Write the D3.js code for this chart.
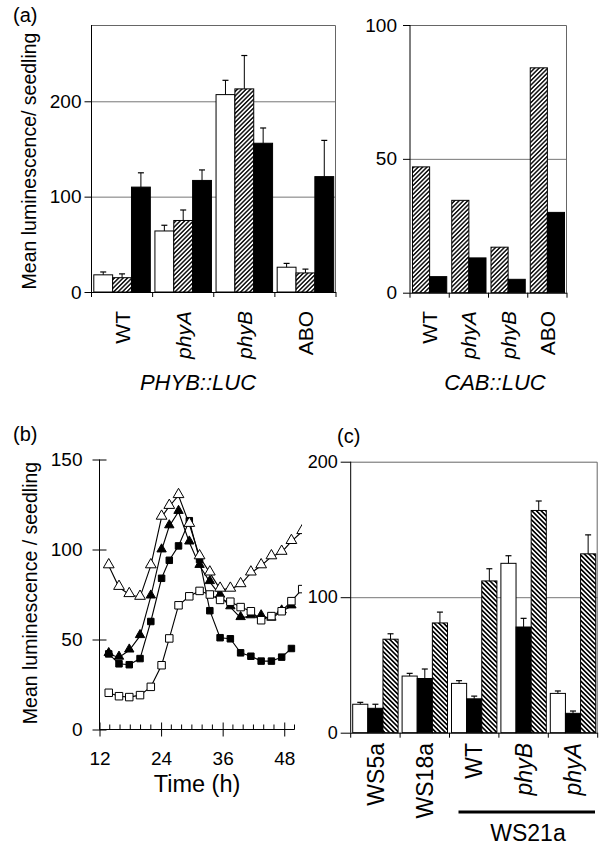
<!DOCTYPE html>
<html>
<head>
<meta charset="utf-8">
<script src="https://cdn.jsdelivr.net/npm/d3@7"></script>
<style>
    body { margin: 0; background: #fff; }
    svg { display: block; font-family: "Liberation Sans", Arial, sans-serif; }
    .grid { stroke: #777; stroke-width: 1; }
    .frame { stroke: #666; stroke-width: 1; fill: none; }
</style>
</head>
<body>
<svg class="chart" width="599" height="845"></svg>
<script>
// panel (a) PHYB::LUC
var phybCats = ['WT', 'phyA', 'phyB', 'ABO'];
var phybWhite = [18, 64, 207, 26];
var phybWhiteErr = [3, 6, 15, 4];
var phybHatch = [15, 75, 213, 20];
var phybHatchErr = [4, 11, 35, 4];
var phybBlack = [110, 117, 156, 121];
var phybBlackErr = [15, 11, 16, 38];
var phybTicks = [0, 100, 200];

// panel (a) CAB::LUC
var cabCats = ['WT', 'phyA', 'phyB', 'ABO'];
var cabHatch = [47, 34.5, 17, 84];
var cabBlack = [6, 13, 5, 30];
var cabTicks = [0, 50, 100];

// panel (b) time course
var times = [13.8, 15.8, 17.8, 19.9, 22, 24.1, 25.6, 27.4, 29.5, 31.5, 33.5, 35.5, 37.5, 39.5, 41.5, 43.5, 45.5, 47.5, 49.4, 51.5];
var openTri = [91, 79, 75, 73.5, 91, 118, 124, 130, 114, 96, 87, 78, 78, 80.5, 87, 91, 96, 98.5, 104.5, 110];
var filledTri = [42, 40, 44, 52, 74, 99.6, 113, 121, 104, 91, 82, 74.5, 68, 62, 63, 63, 61.7, 65.7, 68.5];
var filledSq = [42, 36.5, 36, 39.4, 60, 84, 94, 102, 116, 94.4, 66, 51, 50.4, 42.6, 40.7, 38, 38, 40.2, 45];
var openSq = [20.4, 18.5, 18, 19.1, 23.7, 35.7, 50.6, 69, 74, 77, 75, 72, 71, 68, 65.7, 60.7, 63, 65.7, 71.3, 78];
var timeTicks = [12, 24, 36, 48];
var lumTicks = [0, 50, 100, 150];

// panel (c)
var wsCats = ['WS5a', 'WS18a', 'WT', 'phyB', 'phyA'];
var wsWhite = [21, 41.8, 36.4, 125, 29];
var wsWhiteErr = [1.4, 2, 2, 5.6, 1.8];
var wsBlack = [18, 40, 25, 78, 14.3];
var wsBlackErr = [3, 7, 2, 6.4, 1.7];
var wsHatch = [69, 81, 112, 164, 132];
var wsHatchErr = [4, 8, 9, 7, 14];
var wsTicks = [0, 100, 200];

(function () {
    var svg = d3.select('.chart');
    var italic = ['phyA', 'phyB'];

    svg.append('rect').attr('width', 599).attr('height', 845).attr('fill', '#fff');

    // hatch patterns
    var defs = svg.append('defs');
    makeHatch('hatchA', 45, 3.1, 1.4);
    makeHatch('hatchC', -45, 3.3, 1.7);
    defs.append('clipPath').attr('id', 'clipB')
        .append('rect').attr('x', 0).attr('y', 400).attr('width', 302).attr('height', 400);

    function makeHatch(id, angle, step, width) {
        defs.append('pattern')
            .attr('id', id)
            .attr('patternUnits', 'userSpaceOnUse')
            .attr('width', step).attr('height', step)
            .attr('patternTransform', 'rotate(' + angle + ')')
            .call(function (p) {
                p.append('rect').attr('width', step).attr('height', step).attr('fill', '#fff');
                p.append('line').attr('x1', step / 2).attr('x2', step / 2)
                    .attr('y1', 0).attr('y2', step)
                    .attr('stroke', '#000').attr('stroke-width', width);
            });
    }

    function label(x, y, text, size, opts) {
        opts = opts || {};
        return svg.append('text')
            .attr('x', x).attr('y', y)
            .attr('font-size', size)
            .attr('text-anchor', opts.anchor || 'start')
            .attr('font-style', opts.italic ? 'italic' : 'normal')
            .text(text);
    }

    // grouped bar chart with optional error bars
    function barPanel(cfg) {
        var x = d3.scaleBand().domain(cfg.cats).range([cfg.left, cfg.right]);
        var y = d3.scaleLinear().domain(cfg.yDomain).range([cfg.bottom, cfg.top]);
        var inner = d3.scaleBand().domain(d3.range(cfg.series.length))
            .range([cfg.inset, x.bandwidth() - cfg.inset]);
        var g = svg.append('g');

        // grid lines
        g.selectAll('.grid').data(cfg.grid).enter().append('line')
            .attr('class', 'grid')
            .attr('x1', cfg.left).attr('x2', cfg.right)
            .attr('y1', function (d) { return y(d) + 0.5; })
            .attr('y2', function (d) { return y(d) + 0.5; });

        // frame (top + right)
        g.append('path').attr('class', 'frame')
            .attr('d', 'M' + cfg.left + ',' + (cfg.top + 0.5) + 'H' + (cfg.right - 0.5) + 'V' + cfg.bottom);

        cfg.series.forEach(function (s, si) {
            g.selectAll('.bar' + si).data(s.values).enter().append('rect')
                .attr('x', function (d, i) { return x(cfg.cats[i]) + inner(si); })
                .attr('y', function (d) { return y(d); })
                .attr('width', inner.bandwidth())
                .attr('height', function (d) { return y(0) - y(d); })
                .attr('fill', s.fill)
                .attr('stroke', '#000').attr('stroke-width', 1);
            if (!s.err) return;
            var eg = g.selectAll('.err' + si).data(s.values).enter().append('g')
                .attr('transform', function (d, i) {
                    return 'translate(' + (x(cfg.cats[i]) + inner(si) + inner.bandwidth() / 2) + ',0)';
                });
            eg.append('line')
                .attr('y1', function (d) { return y(d); })
                .attr('y2', function (d, i) { return y(d + s.err[i]); })
                .attr('stroke', '#000');
            eg.append('line')
                .attr('x1', -3).attr('x2', 3)
                .attr('y1', function (d, i) { return y(d + s.err[i]); })
                .attr('y2', function (d, i) { return y(d + s.err[i]); })
                .attr('stroke', '#000').attr('stroke-width', 1.2);
        });

        // y axis
        var ya = g.append('g').attr('transform', 'translate(' + cfg.left + ',0)')
            .call(d3.axisLeft(y).tickValues(cfg.ticks).tickSize(cfg.tick).tickPadding(cfg.pad));
        ya.select('.domain').attr('d', 'M0,' + cfg.bottom + 'V' + cfg.top);
        ya.selectAll('text').attr('font-size', cfg.tickFont).attr('font-family', null).attr('fill', '#000');

        // x axis with ticks between groups
        var bx = g.append('g');
        bx.append('line').attr('x1', cfg.left).attr('x2', cfg.right)
            .attr('y1', cfg.bottom + 0.5).attr('y2', cfg.bottom + 0.5).attr('stroke', '#000');
        bx.selectAll('.sep').data(cfg.cats.concat(['end'])).enter().append('line')
            .attr('x1', function (d, i) { return cfg.left + i * x.step(); })
            .attr('x2', function (d, i) { return cfg.left + i * x.step(); })
            .attr('y1', cfg.bottom).attr('y2', cfg.bottom + 5)
            .attr('stroke', '#000');

        // category labels
        g.selectAll('.cat').data(cfg.cats).enter().append('text')
            .attr('transform', function (d) {
                return 'translate(' + (x(d) + x.bandwidth() / 2) + ',' + cfg.labelY + ') rotate(-90)';
            })
            .attr('dy', '0.36em')
            .attr('text-anchor', 'end')
            .attr('font-size', cfg.catFont)
            .attr('font-style', function (d) { return italic.indexOf(d) >= 0 ? 'italic' : 'normal'; })
            .text(function (d) { return d; });
        return x;
    }

    // ---- panel (a) ----
    label(13, 22, '(a)', 20);
    svg.append('text')
        .attr('transform', 'translate(36,161) rotate(-90)')
        .attr('text-anchor', 'middle').attr('font-size', 19.5)
        .text('Mean luminescence/ seedling');

    barPanel({
        cats: phybCats, left: 91.5, right: 336, top: 25, bottom: 292, yDomain: [0, 280],
        inset: 2.3, grid: [100, 200], ticks: phybTicks, tick: 7, pad: 3, tickFont: 19,
        labelY: 311, catFont: 21,
        series: [
            { values: phybWhite, err: phybWhiteErr, fill: '#fff' },
            { values: phybHatch, err: phybHatchErr, fill: 'url(#hatchA)' },
            { values: phybBlack, err: phybBlackErr, fill: '#000' }
        ]
    });
    label(198, 390, 'PHYB::LUC', 22, { anchor: 'middle', italic: true });

    barPanel({
        cats: cabCats, left: 410, right: 567, top: 25, bottom: 292.7, yDomain: [0, 100],
        inset: 2.5, grid: [50], ticks: cabTicks, tick: 7, pad: 6, tickFont: 19,
        labelY: 311, catFont: 21,
        series: [
            { values: cabHatch, fill: 'url(#hatchA)' },
            { values: cabBlack, fill: '#000' }
        ]
    });
    label(495, 390, 'CAB::LUC', 22, { anchor: 'middle', italic: true });

    // ---- panel (b) ----
    label(13, 441, '(b)', 20);
    svg.append('text')
        .attr('transform', 'translate(37,593) rotate(-90)')
        .attr('text-anchor', 'middle').attr('font-size', 19.5)
        .text('Mean luminescence / seedling');

    var xb = d3.scaleLinear().domain([12, 50]).range([99.5, 294.5]);
    var yb = d3.scaleLinear().domain([0, 150]).range([729.5, 459.5]);

    var gb = svg.append('g');
    var ya = gb.append('g').attr('transform', 'translate(99.5,0)')
        .call(d3.axisLeft(yb).tickValues(lumTicks).tickSize(7).tickPadding(10));
    ya.select('.domain').attr('d', 'M0,' + yb(0) + 'V' + yb(150));
    ya.selectAll('.tick line').attr('x2', 7).attr('x1', -7);
    ya.selectAll('text').attr('font-size', 19).attr('font-family', null).attr('fill', '#000');

    var xa = gb.append('g').attr('transform', 'translate(0,729.5)')
        .call(d3.axisBottom(xb).tickValues(timeTicks).tickSize(7).tickPadding(15).tickFormat(d3.format('d')));
    xa.select('.domain').attr('d', 'M' + xb(12) + ',0H' + xb(50));
    xa.selectAll('.tick line').attr('y1', -7).attr('y2', 7);
    xa.selectAll('text').attr('font-size', 19).attr('font-family', null).attr('fill', '#000');
    gb.selectAll('.minor').data(d3.range(14, 51, 2).filter(function (d) { return d % 12; }))
        .enter().append('line')
        .attr('x1', function (d) { return xb(d); }).attr('x2', function (d) { return xb(d); })
        .attr('y1', 729.5).attr('y2', 724.5).attr('stroke', '#000');

    label(197, 792, 'Time (h)', 23.5, { anchor: 'middle' });

    var plot = gb.append('g').attr('clip-path', 'url(#clipB)');
    var line = d3.line()
        .x(function (d) { return xb(d[0]); })
        .y(function (d) { return yb(d[1]); });
    var sym = {
        openTri: d3.symbol().type(d3.symbolTriangle).size(50),
        filledTri: d3.symbol().type(d3.symbolTriangle).size(38),
        filledSq: d3.symbol().type(d3.symbolSquare).size(42),
        openSq: d3.symbol().type(d3.symbolSquare).size(56)
    };
    var series = [
        { key: 'filledTri', values: filledTri, fill: '#000' },
        { key: 'filledSq', values: filledSq, fill: '#000' },
        { key: 'openSq', values: openSq, fill: '#fff' },
        { key: 'openTri', values: openTri, fill: '#fff' }
    ];
    series.forEach(function (s) {
        var pts = s.values.map(function (v, i) { return [times[i], v]; });
        plot.append('path').attr('d', line(pts))
            .attr('fill', 'none').attr('stroke', '#000').attr('stroke-width', 1.1);
        plot.selectAll('.m-' + s.key).data(pts).enter().append('path')
            .attr('transform', function (d) {
                var dy = s.key.indexOf('Tri') >= 0 ? -1 : 0;
                return 'translate(' + xb(d[0]) + ',' + (yb(d[1]) + dy) + ')';
            })
            .attr('d', sym[s.key])
            .attr('fill', s.fill).attr('stroke', '#000').attr('stroke-width', 1);
    });

    // ---- panel (c) ----
    label(337, 443, '(c)', 20);
    var xc = barPanel({
        cats: wsCats, left: 350.7, right: 597.7, top: 461.7, bottom: 732.7, yDomain: [0, 200],
        inset: 2, grid: [100], ticks: wsTicks, tick: 10, pad: 3, tickFont: 18,
        labelY: 743, catFont: 23,
        series: [
            { values: wsWhite, err: wsWhiteErr, fill: '#fff' },
            { values: wsBlack, err: wsBlackErr, fill: '#000' },
            { values: wsHatch, err: wsHatchErr, fill: 'url(#hatchC)' }
        ]
    });
    svg.append('line')
        .attr('x1', xc('WT') + 9).attr('x2', 595)
        .attr('y1', 812).attr('y2', 812)
        .attr('stroke', '#000').attr('stroke-width', 3);
    label(528, 841, 'WS21a', 23, { anchor: 'middle' });
}());
</script>
</body>
</html>
